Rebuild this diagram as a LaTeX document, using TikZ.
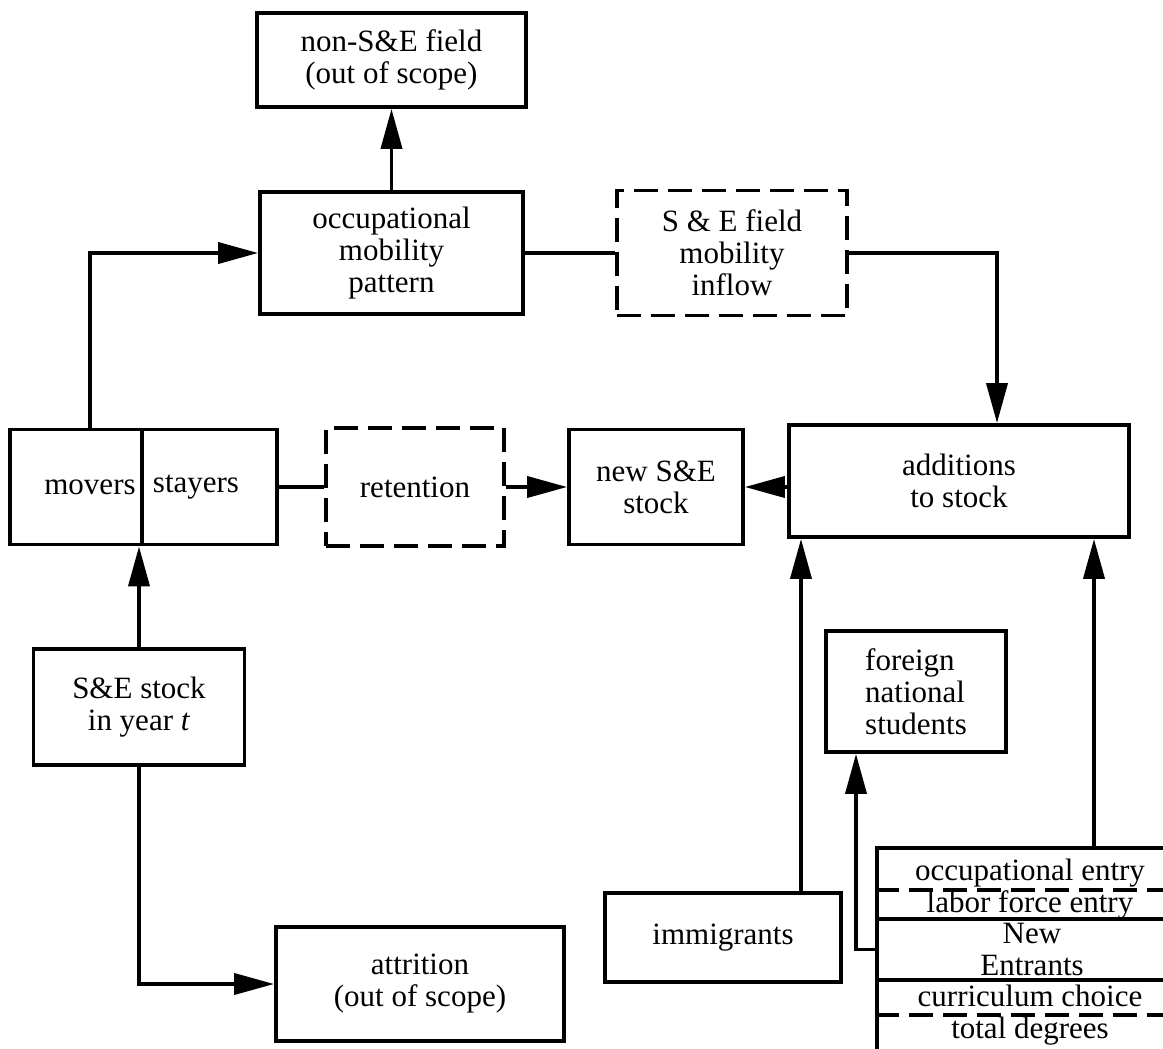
\documentclass[tikz,border=0pt]{standalone}
\usepackage{fontspec}
\setmainfont{Liberation Serif}
\usetikzlibrary{arrows.meta}

\begin{document}
\begin{tikzpicture}[x=0.5pt,y=-0.5pt,line width=1.9pt,
  box/.style 2 args={draw,rectangle,inner sep=0pt,align=center,font=\fontsize{15.5}{16}\selectfont,minimum width=#1*0.5pt,minimum height=#2*0.5pt},
  dbox/.style 2 args={box={#1}{#2},dashed,dash pattern=on 12pt off 5pt},
  txt/.style={inner sep=0pt,font=\fontsize{15.5}{16}\selectfont},
  arr/.style={-{Triangle[length=20pt,width=10.5pt]}}]
\useasboundingbox (0,0) rectangle (1163,1049);
\clip (0,0) rectangle (1163,1049);
\node[box={269}{94}] (nonse) at (391.5,60) {non-S\&E field\\(out of scope)};
\node[box={263}{122}] (occ) at (391.5,253) {occupational\\mobility\\pattern};
\node[dbox={230}{125}] (inflow) at (732,253) {S \& E field\\mobility\\inflow};
\node[box={267}{115}] (mvst) at (143.5,487) {};
\node[txt] (movtxt) at (90,487) {movers};
\node[txt] (staytxt) at (196,487) {stayers};
\draw (142,430) -- (142,544);
\node[dbox={178}{118}] (ret) at (415,487) {retention};
\node[box={174}{115}] (newstock) at (656,487) {new S\&E\\stock};
\node[box={340}{112}] (add) at (959,481) {additions\\to stock};
\node[box={211}{116}] (sestock) at (139,707) {S\&E stock\\in year \textit{t}};
\node[box={288}{114}] (attr) at (420,984) {attrition\\(out of scope)};
\node[box={236}{89}] (immig) at (723,937.5) {immigrants};
\node[box={180}{121},align=left] (foreign) at (916,691.5) {foreign\\national\\students};
\node[box={310}{71}] (entry) at (1032,883.5) {};
\node[box={310}{61}] (newent) at (1032,949.5) {New\\Entrants};
\node[box={310}{90}] (degrees) at (1032,1025) {};
\draw[dashed,dash pattern=on 12pt off 5pt] (entry.west |- 0,890) -- (entry.east |- 0,890);
\draw[dashed,dash pattern=on 12pt off 5pt] (degrees.west |- 0,1015) -- (degrees.east |- 0,1015);
\foreach \y/\t in {873/occupational entry,905/labor force entry,996/curriculum choice,1031/total degrees} {
  \node[txt] (lbl\y) at (1030,\y) {\t};
}
\draw[arr] (occ) -- (nonse);
\draw[arr] (movtxt |- mvst.north) |- (occ.west);
\draw (occ.east) -- (inflow.west);
\draw[arr] (inflow.east) -| ([xshift=19pt]add.north);
\draw (mvst.east) -- (ret.west);
\draw[arr] (ret.east) -- (newstock.west);
\draw[arr] (add.west |- newstock.east) -- (newstock.east);
\draw[arr] (sestock.north) -- (sestock.north |- mvst.south);
\draw[arr] (sestock.south) |- (attr.west);
\draw[arr] ([xshift=39pt]immig.north) -- ([xshift=39pt]immig.north |- add.south);
\draw[arr] ([xshift=67.5pt]add.south |- entry.north) -- ([xshift=67.5pt]add.south);
\draw[arr] (newent.west) -| ([xshift=-30pt]foreign.south);
\end{tikzpicture}
\end{document}
